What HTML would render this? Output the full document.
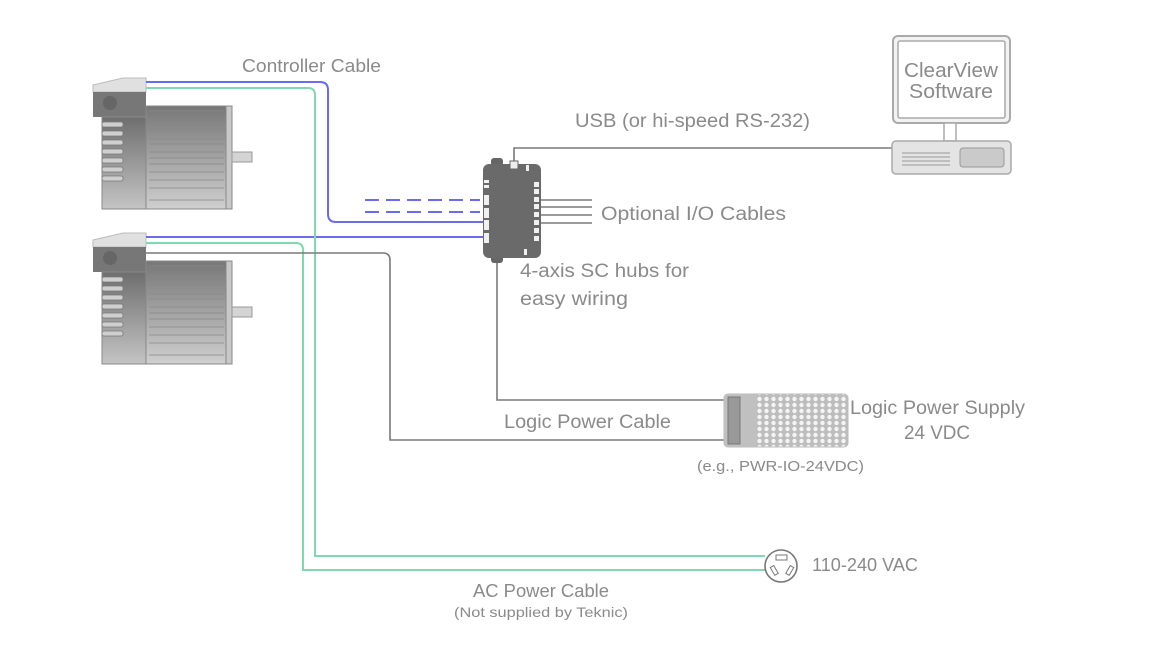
<!DOCTYPE html>
<html><head><style>
html,body{margin:0;padding:0;background:#fff;}
svg text{font-family:"Liberation Sans",sans-serif;fill:#8a8a8a;}
</style></head><body>
<svg width="1162" height="654" viewBox="0 0 1162 654" xmlns="http://www.w3.org/2000/svg">
<defs>
<linearGradient id="mg" x1="0" y1="0" x2="0" y2="1"><stop offset="0" stop-color="#6e6e6e"/><stop offset="1" stop-color="#c4c4c4"/></linearGradient>
<linearGradient id="mg2" x1="0" y1="0" x2="0" y2="1"><stop offset="0" stop-color="#777"/><stop offset="1" stop-color="#cfcfcf"/></linearGradient>
<pattern id="holes" width="7" height="6" patternUnits="userSpaceOnUse"><rect width="7" height="6" fill="#bdbdbd"/><circle cx="3.5" cy="3" r="2.2" fill="#f4f4f4"/></pattern>
<g id="motor">
<path d="M93 85 L123 78 L146 78 L146 92 L93 92 Z" fill="#e0e0e0" stroke="#bbb"/>
<rect x="93" y="92" width="53" height="25" fill="#777"/>
<circle cx="110" cy="103" r="7" fill="#666"/>
<rect x="102" y="117" width="44" height="92" fill="url(#mg)" stroke="#888"/>
<g fill="#cfcfcf" stroke="#777" stroke-width="0.8">
<rect x="102" y="122" width="21" height="5" rx="2"/><rect x="102" y="131" width="21" height="5" rx="2"/><rect x="102" y="140" width="21" height="5" rx="2"/><rect x="102" y="149" width="21" height="5" rx="2"/><rect x="102" y="158" width="21" height="5" rx="2"/><rect x="102" y="167" width="21" height="5" rx="2"/><rect x="102" y="176" width="21" height="5" rx="2"/>
</g>
<rect x="146" y="106" width="80" height="103" fill="url(#mg2)" stroke="#888"/>
<g stroke="#888" stroke-width="0.8">
<line x1="149" y1="111" x2="224" y2="111"/><line x1="149" y1="122" x2="224" y2="122"/><line x1="149" y1="130" x2="224" y2="130"/><line x1="149" y1="139" x2="224" y2="139"/><line x1="149" y1="144" x2="224" y2="144"/><line x1="149" y1="152" x2="224" y2="152"/><line x1="149" y1="158" x2="224" y2="158"/><line x1="149" y1="164" x2="224" y2="164"/><line x1="149" y1="172" x2="224" y2="172"/><line x1="149" y1="180" x2="224" y2="180"/><line x1="149" y1="188" x2="224" y2="188"/><line x1="149" y1="200" x2="224" y2="200"/>
</g>
<rect x="226" y="106" width="6" height="103" fill="#c8c8c8" stroke="#888"/>
<rect x="232" y="152" width="20" height="10" fill="#d4d4d4" stroke="#999"/>
</g>
</defs>
<use href="#motor"/>
<use href="#motor" y="155"/>

<g fill="none" stroke-width="2">
<path d="M146 82 H320 Q328 82 328 90 V214 Q328 222 336 222 H483" stroke="#6b6bf0"/>
<path d="M365 200 H480 M365 212 H480" stroke="#6b6bf0" stroke-dasharray="14,7"/>
<path d="M146 237 H483" stroke="#6b6bf0"/>
<path d="M146 88 H308 Q315 88 315 95 V556 H765" stroke="#7fd8b0"/>
<path d="M146 243 H296 Q303 243 303 250 V570 H765" stroke="#7fd8b0"/>
<path d="M146 253 H383 Q390 253 390 260 V440 H725" stroke="#7a7a7a" stroke-width="1.6"/>
<path d="M497 257 V400 H725" stroke="#7a7a7a" stroke-width="1.6"/>
<path d="M514 164 V148 H893" stroke="#7a7a7a" stroke-width="1.6"/>
<path d="M541 200 H592 M541 207 H592 M541 215 H592 M541 223 H592" stroke="#7a7a7a" stroke-width="1.6"/>
</g>

<rect x="491" y="158" width="12" height="8" rx="3" fill="#666"/>
<rect x="491" y="255" width="12" height="8" rx="3" fill="#666"/>
<rect x="483" y="164" width="58" height="94" rx="6" fill="#6a6a6a"/>
<rect x="510" y="161" width="8" height="8" fill="#eee" stroke="#666"/>
<g fill="#f0f0f0">
<rect x="484" y="195" width="5" height="10"/><rect x="484" y="208" width="5" height="10"/><rect x="484" y="220" width="5" height="10"/><rect x="484" y="233" width="5" height="10"/>
<rect x="484" y="180" width="5" height="3"/><rect x="484" y="185" width="5" height="3"/>
<rect x="534" y="182" width="5" height="5"/><rect x="534" y="189" width="5" height="5"/><rect x="534" y="197" width="5" height="5"/><rect x="534" y="204" width="5" height="5"/><rect x="534" y="212" width="5" height="5"/><rect x="534" y="220" width="5" height="5"/><rect x="534" y="228" width="5" height="5"/><rect x="534" y="236" width="5" height="5"/>
<rect x="526" y="165" width="3" height="6"/><rect x="524" y="249" width="3" height="6"/>
</g>

<rect x="724" y="394" width="124" height="53" rx="4" fill="url(#holes)" stroke="#bbb"/>
<rect x="724" y="394" width="33" height="53" rx="4" fill="#c0c0c0"/>
<rect x="728" y="397" width="12" height="47" fill="#999" stroke="#777"/>

<circle cx="781" cy="566" r="16" fill="#fff" stroke="#777" stroke-width="1.6"/>
<rect x="776" y="555" width="11" height="5" fill="#fff" stroke="#777"/>
<rect x="772" y="566" width="4" height="9" fill="#fff" stroke="#777" transform="rotate(-30 774 570)"/>
<rect x="788" y="566" width="4" height="9" fill="#fff" stroke="#777" transform="rotate(30 790 570)"/>

<rect x="893" y="36" width="117" height="87" rx="5" fill="#f2f2f2" stroke="#aaa" stroke-width="2"/>
<rect x="898" y="41" width="107" height="77" rx="2" fill="#fff" stroke="#aaa" stroke-width="1.5"/>
<rect x="944" y="123" width="12" height="18" fill="#fff" stroke="#aaa" stroke-width="1.5"/>
<rect x="892" y="141" width="119" height="33" rx="4" fill="#e4e4e4" stroke="#aaa" stroke-width="1.5"/>
<rect x="960" y="148" width="44" height="19" rx="3" fill="#cacaca" stroke="#999"/>
<g stroke="#999"><line x1="902" y1="153" x2="950" y2="153"/><line x1="902" y1="157" x2="950" y2="157"/><line x1="902" y1="161" x2="950" y2="161"/><line x1="902" y1="165" x2="950" y2="165"/></g>

<text x="904" y="77" font-size="20" textLength="94" lengthAdjust="spacingAndGlyphs">ClearView</text>
<text x="909" y="98" font-size="20" textLength="84" lengthAdjust="spacingAndGlyphs">Software</text>
<text x="242" y="72" font-size="18" textLength="139" lengthAdjust="spacingAndGlyphs">Controller Cable</text>
<text x="575" y="127" font-size="19" textLength="235" lengthAdjust="spacingAndGlyphs">USB (or hi-speed RS-232)</text>
<text x="601" y="220" font-size="19" textLength="185" lengthAdjust="spacingAndGlyphs">Optional I/O Cables</text>
<text x="520" y="277" font-size="19" textLength="169" lengthAdjust="spacingAndGlyphs">4-axis SC hubs for</text>
<text x="520" y="305" font-size="19" textLength="108" lengthAdjust="spacingAndGlyphs">easy wiring</text>
<text x="504" y="428" font-size="19" textLength="167" lengthAdjust="spacingAndGlyphs">Logic Power Cable</text>
<text x="850" y="414" font-size="19" textLength="175" lengthAdjust="spacingAndGlyphs">Logic Power Supply</text>
<text x="904" y="439" font-size="19" textLength="66" lengthAdjust="spacingAndGlyphs">24 VDC</text>
<text x="697" y="471" font-size="15" textLength="167" lengthAdjust="spacingAndGlyphs">(e.g., PWR-IO-24VDC)</text>
<text x="812" y="571" font-size="18" textLength="106" lengthAdjust="spacingAndGlyphs">110-240 VAC</text>
<text x="473" y="597" font-size="18" textLength="136" lengthAdjust="spacingAndGlyphs">AC Power Cable</text>
<text x="454" y="617" font-size="14" textLength="174" lengthAdjust="spacingAndGlyphs">(Not supplied by Teknic)</text>
</svg>
</body></html>
